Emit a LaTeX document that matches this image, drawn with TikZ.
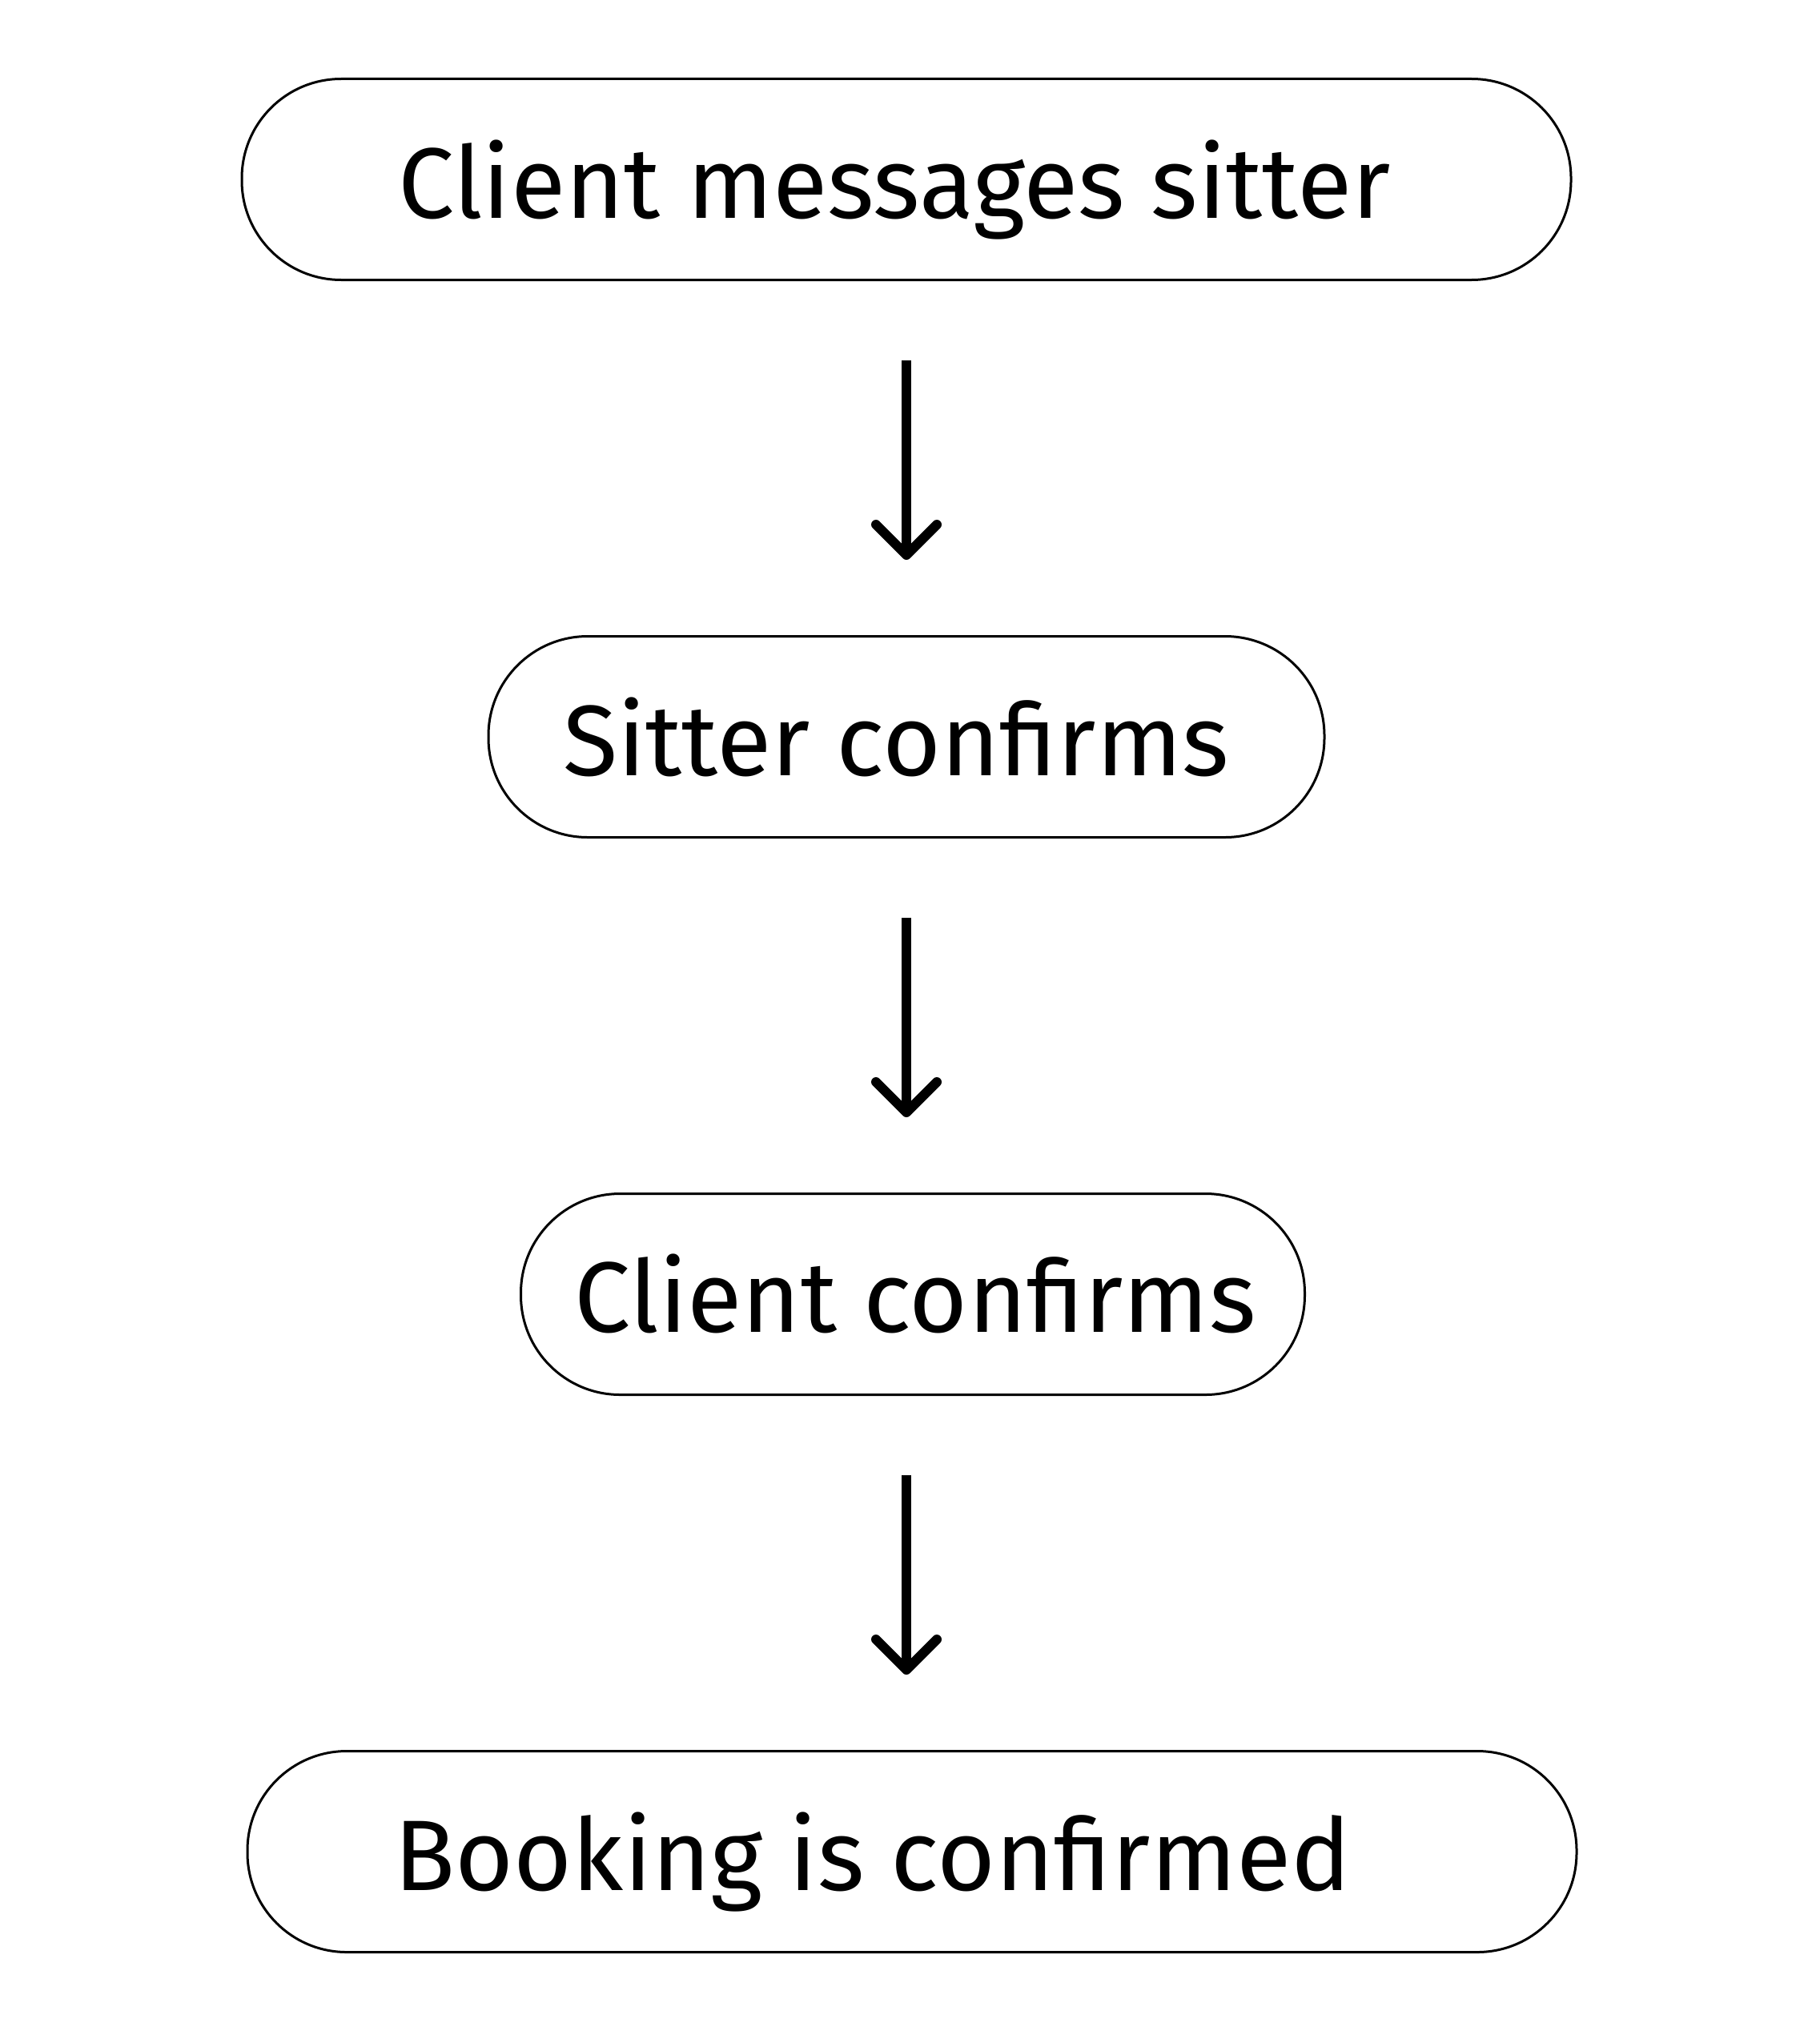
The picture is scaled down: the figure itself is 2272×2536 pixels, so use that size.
\documentclass[tikz,border=0pt]{standalone}
\usepackage{fontspec}
\setmainfont{Fira Sans}
\usetikzlibrary{arrows.meta}

\begin{document}
\begin{tikzpicture}[x=0.25pt,y=-0.25pt,
    stepbox/.style={draw, line width=0.75pt, rounded corners=31pt,
        minimum height=62.75pt, inner sep=0pt},
    steptext/.style={anchor=base, inner sep=0pt,
        font=\fontsize{31.3}{37}\selectfont},
    flow/.style={line width=3pt,
        -{Straight Barb[length=9.5pt, width=19pt, round]},
        shorten <=24.75pt, shorten >=23.5pt}]
        \useasboundingbox (0,0) rectangle (2272,2536);
        \node[stepbox, minimum width=415pt] (msg) at (1132,224) {};
        \node[stepbox, minimum width=261pt] (sconf) at (1132,920) {};
        \node[stepbox, minimum width=244.75pt] (cconf) at (1140,1616) {};
        \node[stepbox, minimum width=415pt] (booked) at (1139,2312) {};
        \node[steptext] (msgT) at (1117,272) {Client messages sitter};
        \node[steptext] (sconfT) at (1119,968) {Sitter confirms};
        \node[steptext] (cconfT) at (1143,1663) {Client confirms};
        \node[steptext] (bookedT) at (1090,2360) {Booking is confirmed};
        \draw[flow] (msg.south) -- (msg.south |- sconf.north);
        \draw[flow] (sconf.south) -- (sconf.south |- cconf.north);
        \draw[flow] (sconf.south |- cconf.south) -- (sconf.south |- booked.north);
    \end{tikzpicture}
\end{document}
